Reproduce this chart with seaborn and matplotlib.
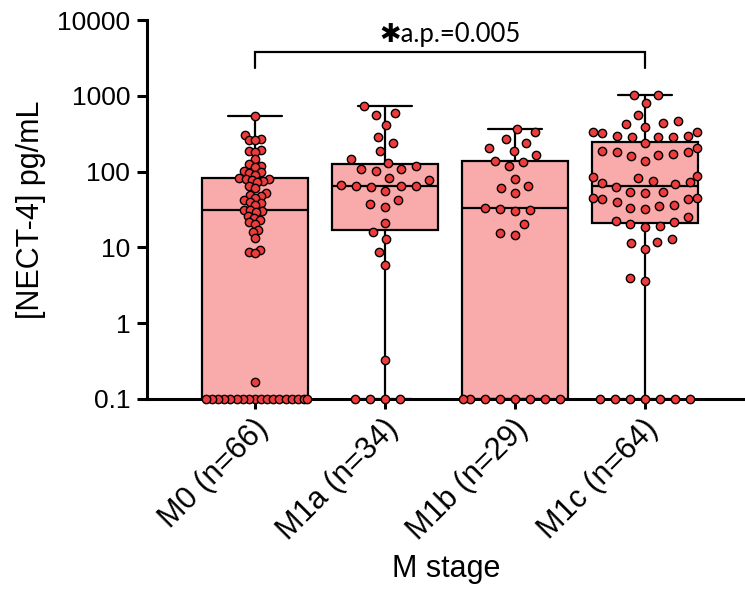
import matplotlib
matplotlib.use("Agg")
import matplotlib.pyplot as plt
import matplotlib.transforms as mtransforms
from matplotlib.ticker import NullLocator
import pandas as pd
import seaborn as sns


stages = ["M0 (n=66)", "M1a (n=34)", "M1b (n=29)", "M1c (n=64)"]

# undetectable samples are drawn on the 0.1 axis line, as in the original figure
m0_values = [547, 304, 270, 265, 260, 190, 185, 180, 145, 125, 120, 116, 102, 98,
             95, 90, 82, 81, 80, 78, 75, 72, 65, 61, 52, 49, 47, 45,
             42, 40, 38, 36, 31.5, 31, 30, 29, 26, 24.5, 23, 21.5, 20.5,
             16.8, 15.8, 13.4, 9.2, 8.7, 8.4, 0.17] + [0.1] * 18
m1a_values = [734, 590, 566, 412, 289, 236, 189, 145, 131, 119, 108, 107, 102,
              83, 77, 66, 65, 64.5, 64, 63, 55, 42, 37, 33.8, 20.8, 16, 12.9,
              8.8, 5.9, 0.33] + [0.1] * 4
m1b_values = [361, 336, 269, 241, 207, 187, 166, 140, 133, 119, 80.5, 65, 60, 52,
              33.5, 32.5, 31.5, 30.5, 20.4, 15.3, 14.6] + [0.1] * 8
m1c_values = [1040, 1030, 795, 558, 470, 432, 424, 384, 335, 328, 322, 295, 292,
              290, 288, 285, 236, 207, 188, 184, 180, 170, 166, 162, 139, 87, 85,
              83, 75, 73, 71, 68, 62, 54, 53, 52, 45, 44.5, 44, 43.5, 40, 36.5,
              35.5, 33.5, 32.5, 25, 22.5, 21.5, 20.4, 19, 18.6, 13, 11.9, 11.3,
              9.4, 4.0, 3.6] + [0.1] * 7

y_ticks = [0.1, 1, 10, 100, 1000, 10000]
y_tick_labels = ["0.1", "1", "10", "100", "1000", "10000"]
p_label = "\u2731a.p.=0.005"

box_fill = "#F9ABAB"
dot_fill = "#EE3B3B"

frames = []
for stage, vals in zip(stages, [m0_values, m1a_values, m1b_values, m1c_values]):
    frames.append(pd.DataFrame({"stage": stage, "nect4": vals}))
df = pd.concat(frames, ignore_index=True)

sns.set_theme(style="ticks")
plt.rcParams["font.family"] = ["Liberation Sans", "DejaVu Sans"]

fig, ax = plt.subplots(figsize=(7.45, 5.95), dpi=100)
fig.subplots_adjust(left=147 / 745, right=1.0, bottom=1 - 399 / 595, top=1 - 20 / 595)
ax.set_yscale("log")
ax.set_ylim(0.1, 10000)

sns.boxplot(data=df, x="stage", y="nect4", order=stages, whis=(0, 100),
            width=0.82, color=box_fill, saturation=1, linecolor="black",
            linewidth=1.6, showfliers=False, ax=ax)

n_before = len(ax.collections)
# the big column gets a tight swarm, the others a wider one (like the original)
spread = df[df["stage"] != stages[0]]
packed = df[df["stage"] == stages[0]]
sns.swarmplot(data=spread, x="stage", y="nect4", order=stages, size=9.4,
              color=dot_fill, edgecolor="black", linewidth=0.8, ax=ax)
sns.swarmplot(data=packed, x="stage", y="nect4", order=stages, size=3.4,
              color=dot_fill, edgecolor="black", linewidth=0.8, ax=ax)

ax.set_xlim(-0.83, 3.77)
ax.set_ylim(0.1, 10000)

# let the swarm layout happen once, then freeze it and shrink the markers
fig.canvas.draw()
for coll in ax.collections[n_before:]:
    if "draw" in vars(coll):
        del coll.draw
    coll.set_sizes([6.0 ** 2])
    coll.set_linewidth(1.0)
    coll.set_clip_on(False)
    coll.set_zorder(4)

ax.set_yticks(y_ticks)
ax.set_yticklabels(y_tick_labels)
ax.yaxis.set_minor_locator(NullLocator())
ax.tick_params(axis="both", which="major", length=7, width=2.2, color="black",
               labelsize=19, labelcolor="black")
ax.tick_params(axis="y", pad=5)
ax.tick_params(axis="x", pad=11, labelsize=22)

plt.setp(ax.get_xticklabels(), rotation=45, ha="right", va="center",
         rotation_mode="anchor")
offset = mtransforms.ScaledTranslation(6 / 72, 0, fig.dpi_scale_trans)
for lab in ax.get_xticklabels():
    lab.set_transform(lab.get_transform() + offset)

sns.despine(ax=ax)
for side in ["left", "bottom"]:
    ax.spines[side].set_linewidth(2.2)
    ax.spines[side].set_color("black")

ax.set_ylabel("[NECT-4] pg/mL", fontsize=22, color="black", labelpad=8)
ax.set_xlabel("M stage", fontsize=22, color="black", labelpad=6)

# significance bracket between M0 and M1c
ax.plot([0, 0, 3, 3], [2330, 3820, 3820, 2330], color="black", lw=1.6,
        clip_on=False, solid_joinstyle="miter")
ax.text(1.5, 6400, p_label, ha="center", va="center", fontsize=18.5,
        family=["Lato", "DejaVu Sans"], color="black")

fig.savefig("out.png", dpi=100)
